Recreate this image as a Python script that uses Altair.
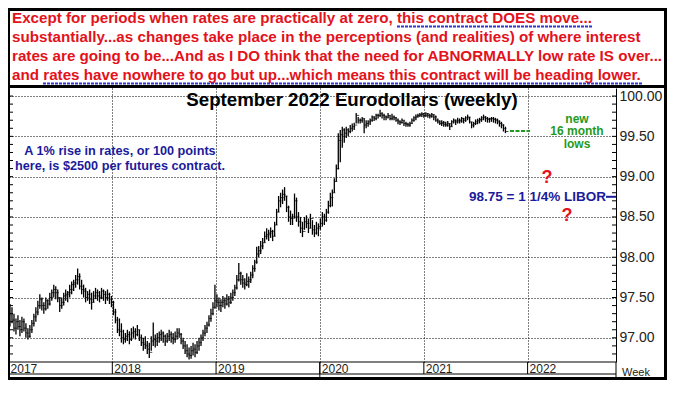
import altair as alt
import pandas as pd

# ---------------- weekly OHLC values ----------------
hi_2017 = [97.42,97.38,97.30,97.24,97.28,97.22,97.26,97.24,97.18,97.12,97.16,97.22,97.30,97.38,97.46,97.54,97.50,97.44,97.50,97.48,
           97.56,97.60,97.66,97.64,97.60,97.50,97.50,97.56,97.60,97.58,97.66,97.70,97.72,97.78,97.86,97.80,97.72,97.66,97.62,97.58,
           97.60,97.56,97.58,97.62,97.60,97.58,97.62,97.60,97.58,97.60,97.56,97.52]
lo_2017 = [97.14,97.18,97.08,97.04,97.10,97.02,97.06,97.08,97.00,96.98,97.00,97.06,97.14,97.20,97.28,97.36,97.34,97.30,97.34,97.36,
           97.40,97.46,97.50,97.48,97.44,97.32,97.36,97.40,97.46,97.44,97.50,97.54,97.58,97.62,97.66,97.60,97.54,97.50,97.44,97.46,
           97.42,97.35,97.44,97.48,97.46,97.44,97.48,97.46,97.42,97.46,97.42,97.38]
cl_2017 = [97.30,97.22,97.12,97.20,97.14,97.10,97.20,97.12,97.06,97.02,97.10,97.18,97.26,97.32,97.40,97.48,97.40,97.36,97.46,97.42,
           97.50,97.56,97.60,97.56,97.50,97.40,97.44,97.52,97.54,97.56,97.60,97.66,97.68,97.72,97.76,97.64,97.60,97.58,97.50,97.54,
           97.48,97.44,97.52,97.56,97.52,97.50,97.58,97.54,97.50,97.54,97.48,97.44]

hi_2018 = [97.46,97.36,97.26,97.24,97.18,97.10,97.06,97.10,97.08,97.12,97.14,97.12,97.16,97.10,97.04,97.00,97.02,96.96,96.94,97.02,
           97.19,97.04,97.06,97.08,97.10,97.08,97.04,97.06,97.10,97.08,97.06,97.08,97.12,97.12,97.06,97.00,96.96,96.92,96.88,96.90,
           96.94,96.92,96.96,97.00,97.04,97.10,97.16,97.20,97.28,97.36,97.44,97.66]
lo_2018 = [97.28,97.18,97.06,97.02,96.94,96.92,96.94,96.96,96.92,96.96,97.00,96.98,97.02,96.96,96.90,96.84,96.86,96.80,96.75,96.84,
           96.90,96.88,96.90,96.94,96.96,96.94,96.90,96.94,96.96,96.94,96.92,96.94,96.98,97.00,96.92,96.86,96.80,96.76,96.73,96.74,
           96.78,96.76,96.80,96.84,96.90,96.96,97.02,97.06,97.14,97.20,97.28,97.36]
cl_2018 = [97.32,97.22,97.10,97.08,97.00,96.98,97.02,97.04,96.98,97.06,97.08,97.04,97.10,97.00,96.94,96.92,96.90,96.86,96.82,96.96,
           96.98,96.96,97.00,97.04,97.06,97.02,96.96,97.02,97.04,97.00,96.98,97.02,97.06,97.04,96.96,96.90,96.84,96.80,96.78,96.84,
           96.86,96.82,96.90,96.94,97.00,97.06,97.12,97.16,97.24,97.30,97.38,97.46]

hi_2019 = [97.54,97.50,97.48,97.52,97.50,97.54,97.52,97.56,97.60,97.66,97.78,97.93,97.82,97.78,97.74,97.80,97.76,97.82,97.90,97.97,
           98.13,98.14,98.20,98.24,98.32,98.36,98.34,98.37,98.34,98.44,98.60,98.76,98.80,98.84,98.87,98.76,98.64,98.58,98.54,98.79,
           98.74,98.56,98.50,98.44,98.50,98.52,98.48,98.54,98.46,98.40,98.44,98.42]
lo_2019 = [97.38,97.34,97.32,97.38,97.36,97.40,97.38,97.42,97.46,97.52,97.60,97.70,97.66,97.62,97.60,97.64,97.62,97.68,97.74,97.82,
           97.92,98.00,98.04,98.10,98.18,98.22,98.20,98.24,98.20,98.26,98.40,98.56,98.62,98.66,98.70,98.56,98.44,98.40,98.40,98.48,
           98.44,98.38,98.30,98.25,98.34,98.36,98.30,98.36,98.28,98.25,98.28,98.26]
cl_2019 = [97.44,97.40,97.44,97.46,97.42,97.48,97.44,97.50,97.56,97.62,97.72,97.80,97.72,97.68,97.66,97.70,97.72,97.78,97.86,97.94,
           98.04,98.08,98.14,98.18,98.26,98.28,98.30,98.32,98.26,98.40,98.56,98.70,98.74,98.78,98.76,98.62,98.50,98.48,98.50,98.70,
           98.50,98.44,98.36,98.32,98.44,98.42,98.36,98.48,98.34,98.30,98.36,98.38]

hi_2020 = [98.48,98.56,98.54,98.60,98.70,98.80,98.84,98.98,99.15,99.54,99.58,99.62,99.60,99.62,99.60,99.64,99.66,99.67,99.79,99.74,
           99.72,99.74,99.72,99.70,99.70,99.72,99.76,99.75,99.78,99.78,99.83,99.80,99.78,99.76,99.79,99.76,99.78,99.76,99.74,99.72,
           99.70,99.72,99.70,99.68,99.67,99.68,99.72,99.75,99.77,99.78,99.79,99.80]
lo_2020 = [98.34,98.38,98.40,98.44,98.54,98.62,98.63,98.80,98.94,99.09,99.18,99.36,99.42,99.48,99.50,99.54,99.56,99.58,99.66,99.66,
           99.66,99.67,99.54,99.60,99.62,99.64,99.68,99.69,99.70,99.72,99.74,99.72,99.70,99.70,99.72,99.70,99.70,99.70,99.68,99.65,
           99.64,99.66,99.63,99.62,99.62,99.62,99.66,99.68,99.70,99.73,99.74,99.74]
cl_2020 = [98.42,98.50,98.46,98.56,98.64,98.74,98.80,98.94,99.10,99.45,99.52,99.58,99.54,99.58,99.56,99.60,99.62,99.64,99.76,99.70,
           99.70,99.72,99.64,99.66,99.68,99.70,99.74,99.72,99.76,99.76,99.78,99.76,99.74,99.74,99.76,99.72,99.74,99.73,99.70,99.68,
           99.67,99.70,99.66,99.65,99.64,99.66,99.70,99.73,99.75,99.76,99.77,99.78]

hi_2021 = [99.79,99.80,99.79,99.78,99.79,99.77,99.76,99.72,99.70,99.70,99.69,99.68,99.69,99.66,99.70,99.72,99.71,99.73,99.72,99.74,
           99.73,99.75,99.77,99.74,99.68,99.68,99.71,99.72,99.73,99.75,99.77,99.75,99.74,99.73,99.74,99.74,99.73,99.72,99.70,99.68,
           99.65,99.62]
lo_2021 = [99.73,99.74,99.73,99.72,99.73,99.70,99.68,99.66,99.64,99.63,99.62,99.62,99.62,99.58,99.62,99.66,99.64,99.66,99.66,99.67,
           99.66,99.68,99.70,99.66,99.60,99.61,99.64,99.65,99.66,99.68,99.70,99.68,99.67,99.67,99.68,99.67,99.66,99.65,99.62,99.60,
           99.56,99.54]
cl_2021 = [99.76,99.78,99.76,99.75,99.77,99.74,99.70,99.68,99.66,99.67,99.65,99.64,99.66,99.62,99.68,99.70,99.68,99.70,99.69,99.72,
           99.70,99.73,99.74,99.68,99.64,99.66,99.68,99.70,99.71,99.73,99.74,99.72,99.71,99.72,99.72,99.71,99.70,99.68,99.66,99.64,
           99.60,99.56]

years = ["2017", "2018", "2019", "2020", "2021", "2022"]
y_labels = [97.0, 97.5, 98.0, 98.5, 99.0, 99.5, 100.0]
minor_ticks = [round(96.8 + 0.1 * k, 1) for k in range(33)]

header_lines = [
    "Except for periods when rates are practically at zero, this contract DOES move...",
    "substantially...as changes take place in the perceptions (and realities) of where interest",
    "rates are going to be...And as I DO think that the need for ABNORMALLY low rate IS over...",
    "and rates have nowhere to go but up...which means this contract will be heading lower.",
]
title_text = "September 2022 Eurodollars (weekly)"
note_lines = ["A 1% rise in rates, or 100 points", "here, is $2500 per futures contract."]
green_lines = ["new", "16 month", "lows"]
libor_level = 98.75
libor_text = "98.75 = 1 1/4% LIBOR"

# ---------------- tables ----------------
hi = hi_2017 + hi_2018 + hi_2019 + hi_2020 + hi_2021
lo = lo_2017 + lo_2018 + lo_2019 + lo_2020 + lo_2021
cl = cl_2017 + cl_2018 + cl_2019 + cl_2020 + cl_2021
bars = pd.DataFrame({
    "date": pd.date_range("2017-01-06", periods=len(hi), freq="7D"),
    "hi": hi, "lo": lo, "cl": cl,
})
year_df = pd.DataFrame({"year": years, "date": pd.to_datetime([y + "-01-01" for y in years])})
year_long = year_df[year_df["year"] == "2020"]
tick_df = pd.DataFrame({"v": minor_ticks})
dummy = pd.DataFrame({"a": [0]})

TOTAL_W = 659
W, H = 608, 274
FONT = "Liberation Sans"
RED = "#e3121b"
NAVY = "#1b1b9b"
GREEN = "#1f9a1f"

xs = alt.Scale(domain=[alt.DateTime(year=2016, month=12, date=30),
                       alt.DateTime(year=2022, month=11, date=8)])
ys = alt.Scale(domain=[96.70, 100.10], nice=False, zero=False)

x_enc = alt.X("date:T", scale=xs, axis=alt.Axis(
    values=[alt.DateTime(year=int(y), month=1, date=1) for y in years[1:]],
    grid=True, gridDash=[1, 2], gridColor="black", gridWidth=1, gridOpacity=1,
    labels=False, ticks=False, domain=False, title=None))
y_axis = alt.Axis(orient="right", values=y_labels, format=".2f", grid=True,
                  gridDash=[1, 2], gridColor="black", gridWidth=1, gridOpacity=1,
                  ticks=False, domain=True, domainColor="black", domainWidth=1,
                  labelFont=FONT, labelFontSize=14, labelColor="#222",
                  labelPadding=3, title=None, labelBaseline="middle")

base = alt.Chart(bars)
hl = base.mark_rule(color="black", strokeWidth=1.3).encode(
    x=x_enc, y=alt.Y("lo:Q", scale=ys, axis=y_axis), y2="hi:Q")
closes = base.mark_tick(color="black", orient="horizontal", size=3, thickness=1,
                        xOffset=1.5).encode(x="date:T", y="cl:Q")

# minor ticks on both axes
ticks_r = alt.Chart(tick_df).mark_rule(color="black", strokeWidth=1).encode(
    y="v:Q", x=alt.value(W - 4), x2=alt.value(W))
ticks_l = alt.Chart(tick_df).mark_rule(color="black", strokeWidth=1).encode(
    y="v:Q", x=alt.value(2), x2=alt.value(5))


def txt(text, x, y, **kw):
    return alt.Chart(dummy).mark_text(text=text, font=FONT, **kw).encode(
        x=alt.value(x), y=alt.value(y))


def hline(x1, x2, y, **kw):
    return alt.Chart(dummy).mark_rule(**kw).encode(
        x=alt.value(x1), x2=alt.value(x2), y=alt.value(y))


def vline(x, y1, y2, **kw):
    return alt.Chart(dummy).mark_rule(**kw).encode(
        x=alt.value(x), y=alt.value(y1), y2=alt.value(y2))


layers = [hl, closes, ticks_r, ticks_l]

# header text
for i, line in enumerate(header_lines):
    layers.append(txt(line, 4, -70.5 + 19 * i, align="left", baseline="middle",
                      fontSize=15.2, fontWeight="bold", color=RED))
layers.append(hline(389, 585, -61.5, color="#3535d5", strokeWidth=2, strokeDash=[3, 1]))
layers.append(hline(35, 634, -4.5, color="#3535d5", strokeWidth=2, strokeDash=[3, 1]))

# title and annotations
layers.append(txt(title_text, 344, 12, align="center", baseline="middle",
                  fontSize=18.7, fontWeight="bold", color="black"))
for i, line in enumerate(note_lines):
    layers.append(txt(line, 112, 63 + 15 * i, align="center", baseline="middle",
                      fontSize=12.7, fontWeight="bold", color=NAVY))
for i, line in enumerate(green_lines):
    layers.append(txt(line, 569, 30.5 + 12.5 * i, align="center", baseline="middle",
                      fontSize=12, fontWeight="bold", color=GREEN))
layers.append(hline(502, 522, 43, color=GREEN, strokeWidth=2, strokeDash=[4, 1.5]))
layers.append(txt("?", 539, 90, align="center", baseline="middle",
                  fontSize=18, fontWeight="bold", color=RED))
layers.append(txt("?", 559, 128, align="center", baseline="middle",
                  fontSize=18, fontWeight="bold", color=RED))
layers.append(alt.Chart(dummy).mark_text(text=libor_text, font=FONT, fontSize=13.5,
                                         fontWeight="bold", color=NAVY, align="right",
                                         baseline="middle").encode(
    x=alt.value(598), y=alt.datum(libor_level)))
layers.append(alt.Chart(dummy).mark_rule(color=NAVY, strokeWidth=2).encode(
    x=alt.value(598), x2=alt.value(W), y=alt.datum(libor_level)))

# bottom date band
layers.append(hline(0, W, H, color="black", strokeWidth=1))
layers.append(hline(0, W, H + 12, color="black", strokeWidth=1))
layers.append(alt.Chart(year_df).mark_rule(color="black", strokeWidth=1).encode(
    x="date:T", y=alt.value(H), y2=alt.value(H + 12)))
layers.append(alt.Chart(year_long).mark_rule(color="black", strokeWidth=1).encode(
    x="date:T", y=alt.value(H), y2=alt.value(291)))
layers.append(alt.Chart(year_df).mark_text(font=FONT, fontSize=12, align="left",
                                           baseline="middle", dx=2, color="#222").encode(
    x="date:T", y=alt.value(H + 6.5), text="year:N"))
layers.append(vline(W, H, 291, color="black", strokeWidth=1))
layers.append(txt("Week", W + 6, 285, align="left", baseline="middle",
                  fontSize=11, color="#222"))

# frame
layers.append(hline(0, TOTAL_W, -78.5, color="black", strokeWidth=3))
layers.append(hline(0, TOTAL_W, -1.5, color="black", strokeWidth=3))
layers.append(hline(0, TOTAL_W, 290.5, color="black", strokeWidth=3))
layers.append(vline(1, -80, 292, color="black", strokeWidth=2))
layers.append(vline(TOTAL_W - 1.5, -80, 292, color="black", strokeWidth=3))

chart = alt.layer(*layers).properties(
    width=W, height=H,
    padding={"left": 0, "top": 80, "right": TOTAL_W - W, "bottom": 18},
    autosize=alt.AutoSizeParams(type="none"),
    background="white",
).configure_view(stroke=None)

chart.save("out.html", embed_options={"renderer": "svg", "actions": False})
